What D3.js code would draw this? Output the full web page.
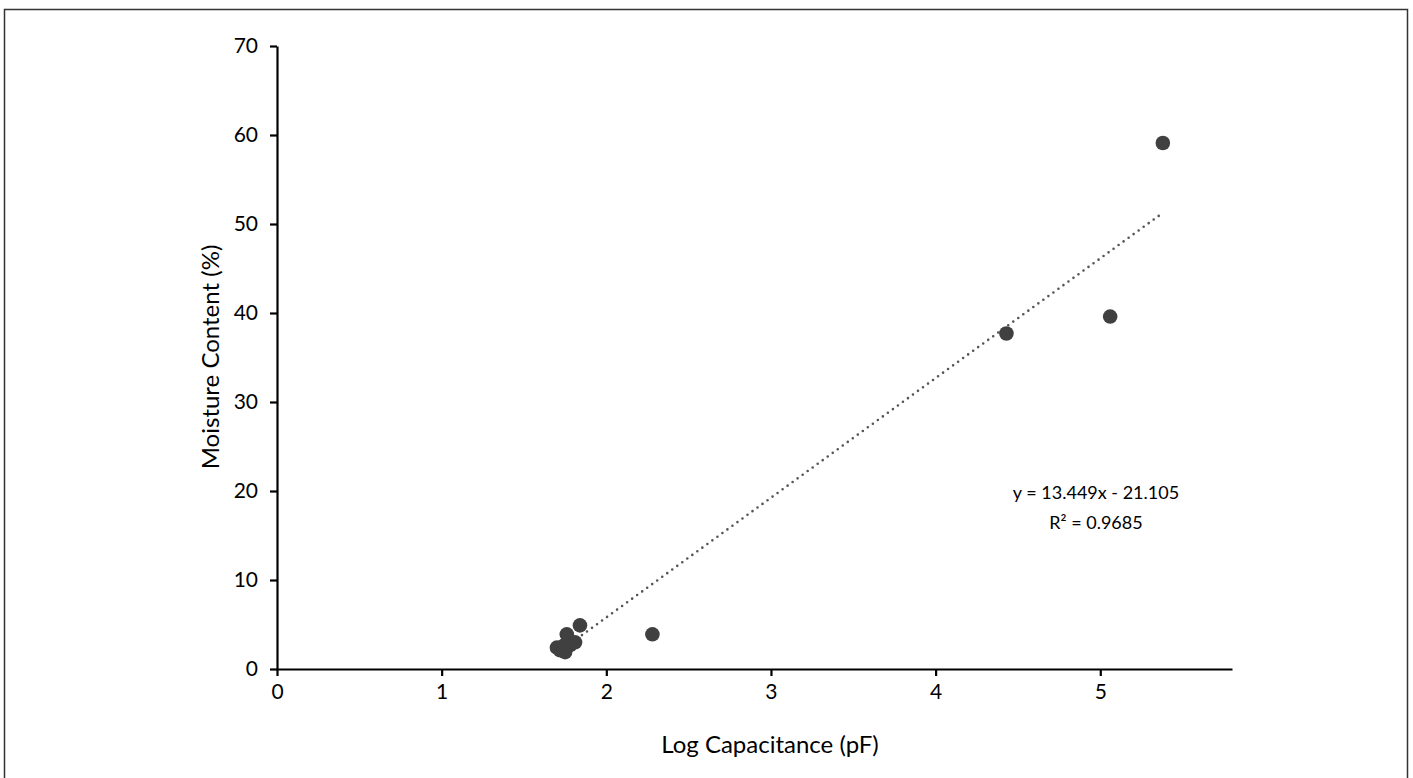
<!DOCTYPE html>
<html>
<head>
<meta charset="utf-8">
<script src="https://cdn.jsdelivr.net/npm/d3@7"></script>
<style>
  body { margin: 0; background: #fff; }
  svg { display: block; font-family: Lato, "Open Sans", sans-serif; }
</style>
</head>
<body>
<div id="chart"></div>
<script>
// measured points: log capacitance vs moisture content
const logCap   = [1.70, 1.72, 1.74, 1.75, 1.76, 1.78, 1.81, 1.84, 2.28, 4.43, 5.06, 5.38];
const moisture = [2.4,  2.1,  2.6,  1.9,  3.9,  2.7,  3.0,  4.9,  3.9,  37.7, 39.6, 59.1];
const xTicks = [0, 1, 2, 3, 4, 5];
const yTicks = [0, 10, 20, 30, 40, 50, 60, 70];
const slope = 13.449, intercept = -21.105;
const eqnLines = ["y = 13.449x - 21.105", "R² = 0.9685"];

const width = 1413, height = 778;
const plot = { left: 277, top: 46, right: 1232, bottom: 669 };

const svg = d3.select("#chart")
  .append("svg")
  .attr("width", width)
  .attr("height", height);

// outer frame (bottom edge falls off the image)
svg.append("rect")
  .attr("x", 4.5).attr("y", 9.5)
  .attr("width", 1403).attr("height", 800)
  .attr("fill", "none")
  .attr("stroke", "#333")
  .attr("stroke-width", 1.5);

const x = d3.scaleLinear().domain([0, 5.8]).range([plot.left, plot.right]);
const y = d3.scaleLinear().domain([0, 70]).range([plot.bottom, plot.top]);

// trendline
const xMin = d3.min(logCap), xMax = d3.max(logCap);
svg.append("line")
  .attr("x1", x(xMin)).attr("y1", y(slope * xMin + intercept))
  .attr("x2", x(xMax)).attr("y2", y(slope * xMax + intercept))
  .attr("stroke", "#555")
  .attr("stroke-width", 2.6)
  .attr("stroke-linecap", "round")
  .attr("stroke-dasharray", "0 6.2");

// points
svg.append("g")
  .selectAll("circle")
  .data(logCap.map((v, i) => [v, moisture[i]]))
  .enter().append("circle")
  .attr("cx", d => x(d[0]))
  .attr("cy", d => y(d[1]))
  .attr("r", 7.3)
  .attr("fill", "#404040");

// axes
const xAxis = svg.append("g")
  .attr("transform", `translate(0,${plot.bottom})`)
  .call(d3.axisBottom(x).tickValues(xTicks).tickFormat(d3.format("d"))
    .tickSize(7).tickSizeOuter(0).tickPadding(8));

const yAxis = svg.append("g")
  .attr("transform", `translate(${plot.left},0)`)
  .call(d3.axisLeft(y).tickValues(yTicks).tickFormat(d3.format("d"))
    .tickSize(7).tickSizeOuter(0).tickPadding(12));

[xAxis, yAxis].forEach(g => {
  g.select(".domain").attr("stroke", "#000").attr("stroke-width", 2.2);
  g.selectAll(".tick line").attr("stroke", "#000").attr("stroke-width", 2.2);
  g.selectAll(".tick text")
    .attr("font-family", "Lato, sans-serif")
    .attr("font-size", 21)
    .attr("fill", "#000");
});

// axis titles
svg.append("text")
  .attr("x", 770).attr("y", 753)
  .attr("text-anchor", "middle")
  .attr("font-size", 24)
  .attr("fill", "#000")
  .text("Log Capacitance (pF)");

svg.append("text")
  .attr("transform", `translate(219,357) rotate(-90)`)
  .attr("text-anchor", "middle")
  .attr("font-size", 24)
  .attr("fill", "#000")
  .text("Moisture Content (%)");

// regression annotation
svg.append("g")
  .selectAll("text")
  .data(eqnLines)
  .enter().append("text")
  .attr("x", 1096)
  .attr("y", (d, i) => 499 + i * 30)
  .attr("text-anchor", "middle")
  .attr("font-size", 18)
  .attr("fill", "#000")
  .text(d => d);
</script>
</body>
</html>
